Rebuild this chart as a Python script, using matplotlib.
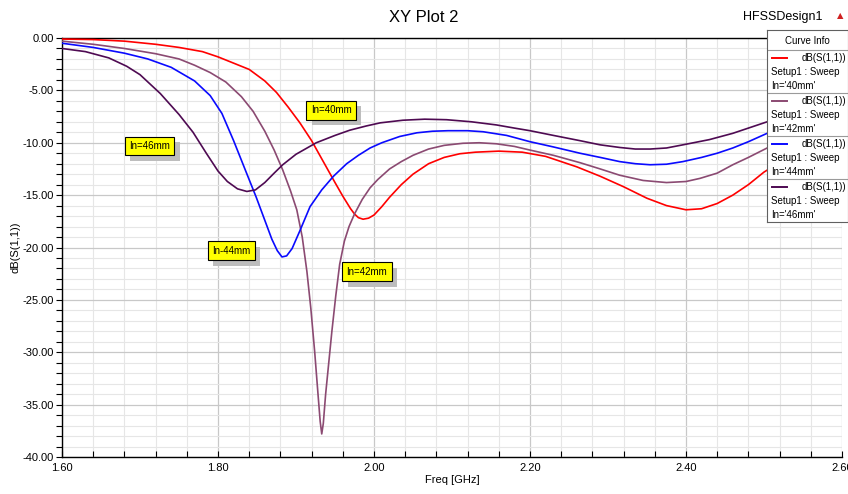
import numpy as np
import matplotlib
matplotlib.use('Agg')
import matplotlib.pyplot as plt
import matplotlib.patheffects as pe
from matplotlib.ticker import MultipleLocator, FormatStrFormatter

plt.rcParams['font.family'] = ['Liberation Sans Narrow', 'Liberation Sans', 'DejaVu Sans']

# curve data (freq in GHz, dB(S11))
f40 = [1.60, 1.64, 1.68, 1.72, 1.75, 1.78, 1.80, 1.82, 1.84, 1.86, 1.875, 1.89, 1.905,
       1.92, 1.935, 1.95, 1.96, 1.97, 1.975, 1.98, 1.986, 1.993, 2.00, 2.01, 2.02, 2.035,
       2.05, 2.07, 2.09, 2.11, 2.13, 2.16, 2.19, 2.22, 2.26, 2.29, 2.32, 2.35, 2.375, 2.40,
       2.42, 2.44, 2.46, 2.48, 2.50, 2.55, 2.60]
s40 = [-0.1, -0.15, -0.3, -0.6, -0.9, -1.3, -1.8, -2.4, -3.0, -4.1, -5.2, -6.6, -8.1,
       -9.8, -11.8, -13.8, -15.1, -16.3, -16.8, -17.15, -17.3, -17.2, -16.9, -16.1, -15.2, -14.0,
       -13.0, -12.0, -11.4, -11.05, -10.9, -10.8, -10.9, -11.3, -12.3, -13.2, -14.2, -15.3, -16.0, -16.4,
       -16.3, -15.8, -15.0, -14.0, -12.8, -10.5, -9.0]

f42 = [1.60, 1.64, 1.68, 1.72, 1.75, 1.77, 1.79, 1.81, 1.83, 1.845, 1.86, 1.872, 1.883,
       1.893, 1.901, 1.908, 1.914, 1.919, 1.924, 1.928, 1.931, 1.933, 1.935, 1.938, 1.942,
       1.946, 1.951, 1.956, 1.962, 1.968, 1.975, 1.985, 1.995, 2.005, 2.02, 2.035, 2.05,
       2.07, 2.09, 2.114, 2.135, 2.157, 2.18, 2.20, 2.23, 2.264, 2.29, 2.315, 2.345, 2.375,
       2.40, 2.418, 2.44, 2.46, 2.48, 2.504, 2.55, 2.60]
s42 = [-0.3, -0.6, -1.0, -1.5, -2.0, -2.6, -3.3, -4.2, -5.6, -7.0, -8.9, -10.7, -12.6,
       -14.6, -16.4, -19.0, -22.3, -25.8, -30.0, -33.8, -36.6, -37.8, -36.8, -34.0, -31.0,
       -28.0, -24.6, -21.6, -19.4, -18.0, -16.8, -15.4, -14.3, -13.5, -12.5, -11.8, -11.2,
       -10.6, -10.25, -10.05, -10.0, -10.1, -10.35, -10.7, -11.2, -11.9, -12.5, -13.1, -13.6, -13.8,
       -13.7, -13.4, -12.9, -12.1, -11.4, -10.5, -9.0, -7.8]

f44 = [1.60, 1.64, 1.68, 1.71, 1.74, 1.77, 1.79, 1.805, 1.82, 1.835, 1.849, 1.86, 1.869,
       1.876, 1.882, 1.888, 1.895, 1.905, 1.918, 1.933, 1.948, 1.965, 1.98, 1.995, 2.01,
       2.033, 2.055, 2.075, 2.095, 2.12, 2.14, 2.17, 2.20, 2.23, 2.264, 2.29, 2.315, 2.335,
       2.354, 2.375, 2.396, 2.42, 2.44, 2.46, 2.48, 2.504, 2.55, 2.60]
s44 = [-0.5, -0.9, -1.45, -2.0, -2.8, -4.1, -5.5, -7.2, -9.8, -12.6, -15.2, -17.4, -19.2,
       -20.3, -20.9, -20.8, -20.1, -18.4, -16.1, -14.5, -13.2, -12.0, -11.2, -10.5, -10.0,
       -9.4, -9.05, -8.9, -8.85, -8.85, -8.95, -9.3, -9.9, -10.4, -11.0, -11.4, -11.8, -12.0,
       -12.1, -12.05, -11.8, -11.4, -11.0, -10.5, -9.9, -9.1, -7.8, -6.8]

f46 = [1.60, 1.63, 1.66, 1.683, 1.70, 1.726, 1.75, 1.768, 1.785, 1.80, 1.812, 1.825, 1.837,
       1.848, 1.86, 1.872, 1.883, 1.90, 1.926, 1.95, 1.969, 1.99, 2.008, 2.037, 2.065, 2.093,
       2.125, 2.157, 2.18, 2.20, 2.23, 2.264, 2.29, 2.315, 2.335, 2.354, 2.375, 2.396, 2.43,
       2.46, 2.48, 2.504, 2.55, 2.60]
s46 = [-1.0, -1.3, -1.9, -2.7, -3.5, -5.3, -7.3, -9.0, -11.0, -12.7, -13.7, -14.4, -14.65,
       -14.5, -13.8, -12.9, -12.1, -11.1, -10.0, -9.3, -8.8, -8.4, -8.1, -7.85, -7.75, -7.8,
       -8.0, -8.3, -8.6, -8.85, -9.3, -9.8, -10.2, -10.45, -10.6, -10.6, -10.5, -10.2, -9.7,
       -9.1, -8.6, -8.0, -6.8, -5.8]

labels = ["In='40mm'", "In='42mm'", "In='44mm'", "In='46mm'"]
colors = ['#ff0000', '#8b4a72', '#0a0aff', '#4e0a52']

# text boxes on the plot
note_text = ['In=40mm', 'In=46mm', 'In-44mm', 'In=42mm']
note_x = [1.945, 1.712, 1.817, 1.991]
note_y = [-6.9, -10.3, -20.3, -22.3]

fig = plt.figure(figsize=(8.48, 4.94), dpi=100)
ax = fig.add_axes([62/848, 37/494, 780/848, 419/494])

for fx, sy, c in zip([f40, f42, f44, f46], [s40, s42, s44, s46], colors):
    ax.plot(fx, sy, color=c, lw=1.2, zorder=3)

ax.set_xlim(1.6, 2.6)
ax.set_ylim(-40, 0)
ax.xaxis.set_major_locator(MultipleLocator(0.2))
ax.xaxis.set_minor_locator(MultipleLocator(0.04))
ax.yaxis.set_major_locator(MultipleLocator(5))
ax.yaxis.set_minor_locator(MultipleLocator(1))
ax.xaxis.set_major_formatter(FormatStrFormatter('%.2f'))
ax.yaxis.set_major_formatter(FormatStrFormatter('%.2f'))
ax.grid(which='major', color='#c8c8c8', lw=0.9)
ax.grid(which='minor', color='#e6e6e6', lw=0.8)
ax.set_axisbelow(True)
ax.tick_params(axis='y', which='both', direction='out', length=4, width=0.8, labelsize=8, pad=2)
ax.tick_params(axis='x', which='both', direction='in', length=4, width=0.8, labelsize=8, pad=4)
for s in ['top', 'bottom', 'left']:
    ax.spines[s].set_color('black')
    ax.spines[s].set_linewidth(1.0)
ax.spines['right'].set_visible(False)
ax.set_xlabel('Freq [GHz]', fontsize=8, labelpad=2)
ax.set_ylabel('dB(S(1,1))', fontsize=8, labelpad=1)

for t, x, y in zip(note_text, note_x, note_y):
    txt = ax.text(x, y, t, ha='center', va='center', fontsize=7, color='black', zorder=5,
                  bbox=dict(boxstyle='square,pad=0.45', fc='#ffff00', ec='black', lw=0.8))
    # grey drop shadow under the yellow label
    txt.get_bbox_patch().set_path_effects([
        pe.SimplePatchShadow(offset=(4, -4), shadow_rgbFace='#bdbdbd', alpha=1.0),
        pe.Normal()])

fig.text(0.5, 0.965, 'XY Plot 2', ha='center', va='center', fontsize=12)
fig.text(0.970, 0.966, 'HFSSDesign1', ha='right', va='center', fontsize=9)
fig.text(0.991, 0.968, '\u25b2', ha='center', va='center', fontsize=6, color='#d02020',
         family='DejaVu Sans')

# Curve Info box
lax = fig.add_axes([767/848, 1 - 222/494, 81/848, 192/494])
lax.set_xlim(0, 81)
lax.set_ylim(192, 0)
lax.set_xticks([])
lax.set_yticks([])
for s in lax.spines.values():
    s.set_color('#606060')
    s.set_linewidth(0.8)
lax.text(40, 11, 'Curve Info', ha='center', va='center', fontsize=7)
lax.axhline(20, color='#9a9a9a', lw=0.8)
for i, (lab, c) in enumerate(zip(labels, colors)):
    top = 20 + i * 43
    if i > 0:
        lax.axhline(top, color='#9a9a9a', lw=0.8)
    lax.plot([5, 20], [top + 8, top + 8], color=c, lw=1.4)
    lax.text(79, top + 8, 'dB(S(1,1))', ha='right', va='center', fontsize=7)
    lax.text(4, top + 22, 'Setup1 : Sweep', ha='left', va='center', fontsize=7)
    lax.text(4, top + 36, lab, ha='left', va='center', fontsize=7)

fig.savefig('out.png', dpi=100)
